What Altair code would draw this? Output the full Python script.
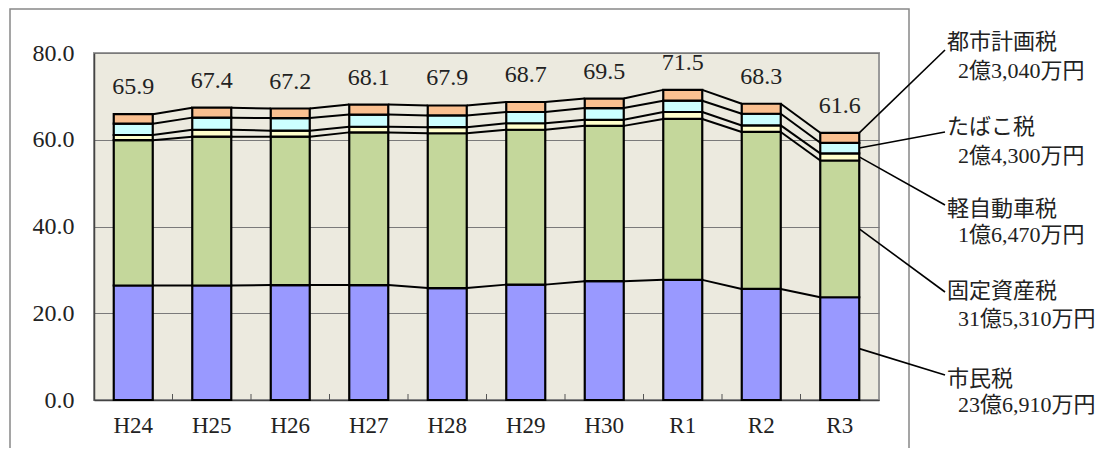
import altair as alt
import pandas as pd

years = ["H24", "H25", "H26", "H27", "H28", "H29", "H30", "R1", "R2", "R3"]
shiminzei = [26.4, 26.4, 26.5, 26.5, 25.8, 26.6, 27.4, 27.7, 25.6, 23.69]
koteishisanzei = [33.5, 34.3, 34.2, 35.2, 35.7, 35.7, 35.8, 37.1, 36.2, 31.53]
keijidoshazei = [1.2, 1.6, 1.4, 1.3, 1.4, 1.5, 1.4, 1.6, 1.5, 1.647]
tabakozei = [2.6, 2.8, 2.9, 2.8, 2.7, 2.6, 2.7, 2.6, 2.7, 2.43]
toshikeikakuzei = [2.2, 2.3, 2.2, 2.3, 2.3, 2.3, 2.2, 2.5, 2.3, 2.304]
totals = [65.9, 67.4, 67.2, 68.1, 67.9, 68.7, 69.5, 71.5, 68.3, 61.6]

series_names = ["市民税", "固定資産税", "軽自動車税", "たばこ税", "都市計画税"]
series_values = [shiminzei, koteishisanzei, keijidoshazei, tabakozei, toshikeikakuzei]
series_colors = ["#9999FF", "#C4D79B", "#FFFFCC", "#CCFFFF", "#FAC090"]
series_amounts = ["23億6,910万円", "31億5,310万円", "1億6,470万円", "2億4,300万円", "2億3,040万円"]

SERIF = "Liberation Serif"
JP = "'Liberation Serif', 'Noto Sans CJK JP', sans-serif"

W, H = 785, 347
STEP = W / len(years)
BW = 39

# stacked segments
rows = []
levels = []  # cumulative tops per series
cum = [0.0] * len(years)
for name, vals in zip(series_names, series_values):
    top = []
    for i, y in enumerate(years):
        rows.append({"year": y, "series": name, "y0": cum[i], "y1": cum[i] + vals[i]})
        top.append(cum[i] + vals[i])
    cum = top
    levels.append(top)
seg = pd.DataFrame(rows)

# series lines between adjacent bars
lrows = []
for k, top in enumerate(levels):
    for i in range(len(years) - 1):
        lrows.append({"a": years[i], "b": years[i + 1], "ya": top[i], "yb": top[i + 1]})
lines = pd.DataFrame(lrows)

tot = pd.DataFrame({"year": years, "total": totals, "label": [f"{t:.1f}" for t in totals]})

xscale = alt.Scale(domain=years, paddingInner=0, paddingOuter=0)
yscale = alt.Scale(domain=[0, 80], nice=False)

x_enc = alt.X("year:N", scale=xscale, sort=years,
              axis=alt.Axis(title=None, labelAngle=0, ticks=False, labelPadding=14,
                            labelFont=SERIF, labelFontSize=23, labelColor="#222",
                            domainColor="#444", domainWidth=1.5))
y_axis = alt.Axis(title=None, values=[0, 20, 40, 60, 80], format=".1f", ticks=False,
                  labelPadding=20, labelFont=SERIF, labelFontSize=24, labelColor="#222",
                  grid=True, gridColor="#7a7a7a", gridWidth=1.2,
                  domainColor="#444", domainWidth=1.5)

outer = alt.Chart(pd.DataFrame({"d": [0]})).mark_rect(
    fill=None, stroke="#888888", strokeWidth=1.5
).encode(x=alt.value(-84), x2=alt.value(815), y=alt.value(-44), y2=alt.value(402))

bars = alt.Chart(seg).mark_bar(width=BW, stroke="black", strokeWidth=2.2).encode(
    x=x_enc,
    y=alt.Y("y0:Q", scale=yscale, axis=y_axis),
    y2="y1:Q",
    color=alt.Color("series:N", scale=alt.Scale(domain=series_names, range=series_colors), legend=None),
)

slines = alt.Chart(lines).mark_rule(color="black", strokeWidth=2, xOffset=BW / 2, x2Offset=-BW / 2).encode(
    x=alt.X("a:N", scale=xscale, sort=years),
    x2="b:N",
    y=alt.Y("ya:Q", scale=yscale),
    y2="yb:Q",
)

xticks = alt.Chart(pd.DataFrame({"year": years[1:]})).mark_rule(
    color="#555", strokeWidth=1, xOffset=-STEP / 2
).encode(x=alt.X("year:N", scale=xscale, sort=years), y=alt.value(H), y2=alt.value(H - 6))

labels = alt.Chart(tot).mark_text(font=SERIF, fontSize=24, dy=-27, baseline="middle", color="#222").encode(
    x=alt.X("year:N", scale=xscale, sort=years),
    y=alt.Y("total:Q", scale=yscale),
    text="label:N",
)

# leader lines from the R3 bar to the annotations
last = len(years) - 1
lead_vals = []
prev = 0.0
for k, top in enumerate(levels):
    mid = (prev + top[last]) / 2
    lead_vals.append(mid)
    prev = top[last]
lead_vals[-1] = levels[-1][last]  # 都市計画税 leader starts at the top of the bar
lead_end_y = [322, 239, 152, 79, -3]
text1_y = [326, 238, 156, 74, -11]
text2_y = [352, 266, 182, 103, 18]

layers = [outer, bars, slines, xticks, labels]
for k in range(len(series_names)):
    lead = alt.Chart(pd.DataFrame({"year": [years[last]], "v": [lead_vals[k]]})).mark_rule(
        color="black", strokeWidth=1.6, xOffset=BW / 2
    ).encode(
        x=alt.X("year:N", scale=xscale, sort=years),
        y=alt.Y("v:Q", scale=yscale),
        x2=alt.value(851),
        y2=alt.value(lead_end_y[k]),
    )
    t1 = alt.Chart(pd.DataFrame({"t": [series_names[k]]})).mark_text(
        font=JP, fontSize=22, align="left", baseline="middle", color="#222"
    ).encode(x=alt.value(853), y=alt.value(text1_y[k]), text="t:N")
    t2 = alt.Chart(pd.DataFrame({"t": [series_amounts[k]]})).mark_text(
        font=JP, fontSize=22, align="left", baseline="middle", color="#222"
    ).encode(x=alt.value(864), y=alt.value(text2_y[k]), text="t:N")
    layers += [lead, t1, t2]

chart = alt.layer(*layers).properties(
    width=W, height=H,
    autosize=alt.AutoSizeParams(type="none"),
    padding={"left": 86, "top": 45, "right": 229, "bottom": 48},
    background="white",
).configure_view(
    fill="#ECEADF", stroke="#9a9a9a", strokeWidth=2
)

chart.save("out.html", embed_options={"renderer": "svg", "actions": False})
